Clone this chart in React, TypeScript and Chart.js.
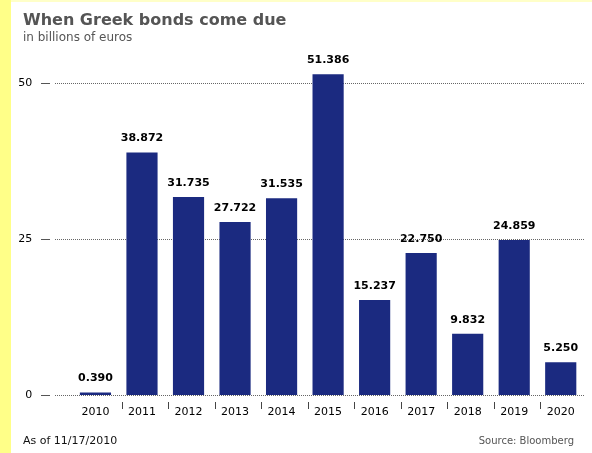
import React, { useEffect, useRef } from "react";
import { Chart, registerables } from "chart.js";

Chart.register(...registerables);

const years = ["2010", "2011", "2012", "2013", "2014", "2015", "2016", "2017", "2018", "2019", "2020"];
const amounts = [0.39, 38.872, 31.735, 27.722, 31.535, 51.386, 15.237, 22.75, 9.832, 24.859, 5.25];
const yTicks = [0, 25, 50];

const title = "When Greek bonds come due";
const subtitle = "in billions of euros";
const footLeft = "As of 11/17/2010";
const footRight = "Source: Bloomberg";

const FONT = "'DejaVu Sans', Verdana, sans-serif";

const decor = {
  id: "decor",
  beforeDraw(chart: any) {
    const { ctx, width, height } = chart;
    ctx.save();
    ctx.fillStyle = "#ffffff";
    ctx.fillRect(0, 0, width, height);
    ctx.fillStyle = "#ffff88";
    ctx.fillRect(0, 0, 11, height);
    ctx.fillStyle = "#ffffc8";
    ctx.fillRect(11, 0, width - 11, 2);
    // titles
    ctx.textBaseline = "alphabetic";
    ctx.textAlign = "left";
    ctx.fillStyle = "#555555";
    ctx.font = `bold 16px ${FONT}`;
    ctx.fillText(title, 23, 25);
    ctx.font = `12px ${FONT}`;
    ctx.fillStyle = "#555555";
    ctx.fillText(subtitle, 23, 41);
    // footer
    ctx.font = `11px ${FONT}`;
    ctx.fillStyle = "#111111";
    ctx.fillText(footLeft, 23, 444);
    ctx.font = `10px ${FONT}`;
    ctx.fillStyle = "#555555";
    ctx.textAlign = "right";
    ctx.fillText(footRight, 574, 444);
    // y grid
    const y = chart.scales.y;
    const area = chart.chartArea;
    yTicks.forEach((v) => {
      const py = Math.round(y.getPixelForValue(v)) + 0.5;
      ctx.strokeStyle = "#555555";
      ctx.lineWidth = 1;
      ctx.setLineDash([]);
      ctx.beginPath();
      ctx.moveTo(41, py);
      ctx.lineTo(50, py);
      ctx.stroke();
      ctx.setLineDash([1, 1]);
      ctx.strokeStyle = "#666666";
      ctx.beginPath();
      ctx.moveTo(55, py);
      ctx.lineTo(area.right, py);
      ctx.stroke();
    });
    ctx.setLineDash([]);
    // category separators
    const x = chart.scales.x;
    ctx.strokeStyle = "#444444";
    for (let i = 0; i < years.length - 1; i++) {
      const px = Math.round((x.getPixelForValue(i) + x.getPixelForValue(i + 1)) / 2 + 3) + 0.5;
      ctx.beginPath();
      ctx.moveTo(px, area.bottom + 7);
      ctx.lineTo(px, area.bottom + 14);
      ctx.stroke();
    }
    ctx.restore();
  },
  afterDatasetsDraw(chart: any) {
    const { ctx } = chart;
    const meta = chart.getDatasetMeta(0);
    ctx.save();
    ctx.font = `bold 11px ${FONT}`;
    ctx.fillStyle = "#000000";
    ctx.textAlign = "center";
    ctx.textBaseline = "middle";
    meta.data.forEach((bar: any, i: number) => {
      ctx.fillText(amounts[i].toFixed(3), bar.x, bar.y - 14);
    });
    ctx.restore();
  },
};

export default function App() {
  const ref = useRef<HTMLCanvasElement>(null);
  useEffect(() => {
    if (!ref.current) return;
    const chart = new Chart(ref.current, {
      type: "bar",
      data: {
        labels: years,
        datasets: [
          {
            data: amounts,
            backgroundColor: "#1b2a80",
            borderWidth: 0,
            barPercentage: 0.67,
            categoryPercentage: 1,
          },
        ],
      },
      options: {
        responsive: false,
        animation: false,
        events: [],
        layout: { padding: { left: 0, right: 8, top: 51.8, bottom: 0 } },
        plugins: { legend: { display: false }, tooltip: { enabled: false }, title: { display: false } },
        scales: {
          x: {
            grid: { display: false, drawTicks: false },
            border: { display: false },
            ticks: { font: { family: FONT, size: 11 }, color: "#000000", padding: 11, maxRotation: 0 },
            afterFit: (s: any) => {
              s.height = 58;
            },
          },
          y: {
            min: 0,
            max: 55,
            grid: { display: false, drawTicks: false },
            border: { display: false },
            afterBuildTicks: (s: any) => {
              s.ticks = yTicks.map((v) => ({ value: v }));
            },
            ticks: { font: { family: FONT, size: 11 }, color: "#000000", padding: 40 },
            afterFit: (s: any) => {
              s.width = 72.2;
            },
          },
        },
      },
      plugins: [decor],
    });
    return () => chart.destroy();
  }, []);
  return (
    <div style={{ position: "fixed", left: 0, top: 0, width: 592, height: 453 }}>
      <canvas ref={ref} width={592} height={453} style={{ display: "block", width: 592, height: 453 }} />
    </div>
  );
}
